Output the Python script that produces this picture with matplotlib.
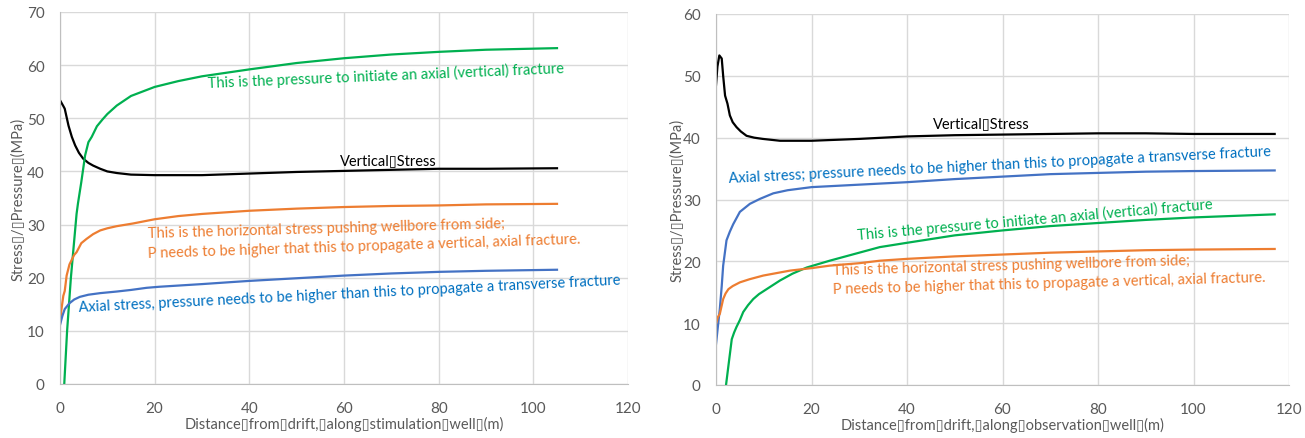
import matplotlib
matplotlib.use('Agg')
import matplotlib.pyplot as plt

plt.rcParams['font.family'] = ['Lato', 'DejaVu Sans']

# Stimulation well (left panel)
stim_black_x = [0, 0.7, 1.0, 1.8, 2.5, 3.2, 4.0, 4.9, 6, 7, 8.5, 10, 12, 15, 20, 30, 40, 50, 60, 70, 80, 90, 105]
stim_black_y = [53.4, 52.3, 51.8, 48.6, 46.5, 44.9, 43.5, 42.4, 41.6, 41.1, 40.5, 40.0, 39.7, 39.4, 39.3, 39.3, 39.6, 39.9, 40.1, 40.3, 40.5, 40.5, 40.6]

stim_green_x = [0.9, 1.5, 2.3, 3.1, 3.5, 3.8, 4.5, 5.3, 6.0, 6.7, 7.8, 9.0, 10, 12, 15, 20, 25, 30, 40, 50, 60, 70, 80, 90, 105]
stim_green_y = [0, 10, 20, 28, 32, 34, 38, 43, 45.5, 46.5, 48.5, 49.8, 50.8, 52.4, 54.2, 55.9, 57.0, 57.9, 59.2, 60.4, 61.3, 62.0, 62.5, 62.9, 63.2]

stim_orange_x = [0, 0.3, 0.7, 1.0, 1.4, 2, 3, 3.5, 4.5, 5.6, 7, 8.5, 10, 12, 15.4, 20, 25, 30, 40, 50, 60, 70, 80, 90, 105]
stim_orange_y = [11.5, 14, 16.6, 17.5, 20.4, 22.5, 24.3, 24.8, 26.5, 27.3, 28.2, 28.9, 29.3, 29.7, 30.2, 31.0, 31.6, 32.0, 32.6, 33.0, 33.3, 33.5, 33.6, 33.8, 33.9]

stim_blue_x = [0, 0.5, 1, 2, 3, 4.2, 6, 8.5, 12, 15, 18.3, 21, 30, 36.6, 40, 50, 60, 70, 80, 90, 105]
stim_blue_y = [11.1, 12.8, 14.1, 15.2, 15.9, 16.4, 16.8, 17.1, 17.4, 17.7, 18.1, 18.3, 18.8, 19.2, 19.4, 19.9, 20.4, 20.8, 21.1, 21.3, 21.5]

# Observation well (right panel)
obs_black_x = [0, 0.3, 0.7, 1.2, 1.5, 1.9, 2.4, 2.9, 3.5, 4.3, 5.2, 6.4, 8, 9.8, 13.4, 20, 30, 40, 50, 60, 70, 80, 90, 100, 117]
obs_black_y = [48.5, 51.5, 53.3, 52.8, 50, 46.8, 45.5, 43.6, 42.5, 41.7, 41.0, 40.3, 40.0, 39.8, 39.5, 39.5, 39.8, 40.2, 40.4, 40.5, 40.6, 40.7, 40.7, 40.6, 40.6]

obs_blue_x = [0, 0.4, 0.8, 1.2, 1.5, 2.2, 2.9, 3.6, 5, 7.1, 9.2, 12, 15, 20, 30, 40, 50, 60, 70, 80, 90, 100, 117]
obs_blue_y = [6.6, 9.5, 12.3, 16, 19.3, 23.4, 24.8, 26, 28, 29.3, 30.1, 31.0, 31.5, 32.0, 32.4, 32.8, 33.3, 33.7, 34.1, 34.3, 34.5, 34.6, 34.7]

obs_green_x = [2.1, 2.6, 3.3, 3.8, 4.3, 5, 5.7, 6.7, 7.8, 9, 10.6, 13.4, 16, 19, 23.8, 30, 34.3, 40, 50, 60, 70, 80, 90, 100, 117]
obs_green_y = [0, 3.1, 7.4, 8.5, 9.4, 10.5, 11.8, 12.9, 13.9, 14.7, 15.5, 16.9, 18.0, 19.0, 20.1, 21.4, 22.3, 23.0, 24.2, 25.0, 25.7, 26.2, 26.7, 27.1, 27.6]

obs_orange_x = [0, 0.4, 0.8, 1.5, 2.0, 2.6, 3.5, 5, 7, 9.9, 12, 15.5, 20, 23.8, 30, 34.3, 40, 50, 60, 70, 80, 90, 100, 117]
obs_orange_y = [9.9, 11.0, 11.5, 13.9, 14.8, 15.5, 16.0, 16.6, 17.1, 17.7, 18.0, 18.5, 18.9, 19.3, 19.7, 20.1, 20.4, 20.8, 21.1, 21.4, 21.6, 21.8, 21.9, 22.0]

BOX = '\u25af'
ylabel = 'Stress' + BOX + '/' + BOX + 'Pressure' + BOX + '(MPa)'
stim_xlabel = BOX.join(['Distance', 'from', 'drift,', 'along', 'stimulation', 'well', '(m)'])
obs_xlabel = BOX.join(['Distance', 'from', 'drift,', 'along', 'observation', 'well', '(m)'])

GREEN = '#00B050'
ORANGE = '#ED7D31'
BLUE = '#4472C4'
BLUE_TXT = '#0070C0'
GREY = '#595959'

fig = plt.figure(figsize=(13.05, 4.39), dpi=100)
ax1 = fig.add_axes([60 / 1305, 54 / 439, 568 / 1305, 372 / 439])
ax2 = fig.add_axes([716 / 1305, 53 / 439, 573 / 1305, 371 / 439])


def style(ax, ymax, xlabel, ylabelpad):
    ax.set_xlim(0, 120)
    ax.set_ylim(0, ymax)
    ax.set_xticks(range(0, 121, 20))
    ax.set_yticks(range(0, ymax + 1, 10))
    ax.grid(True, color='#d9d9d9', lw=1)
    ax.set_axisbelow(True)
    for s in ['top', 'right']:
        ax.spines[s].set_visible(False)
    for s in ['left', 'bottom']:
        ax.spines[s].set_color('#bfbfbf')
    ax.tick_params(length=0, labelsize=11, labelcolor=GREY)
    ax.tick_params(axis='x', pad=12)
    ax.tick_params(axis='y', pad=11)
    ax.set_xlabel(xlabel, fontsize=10.5, color=GREY, labelpad=1)
    ax.set_ylabel(ylabel, fontsize=10.5, color=GREY, labelpad=ylabelpad)


style(ax1, 70, stim_xlabel, 1)
style(ax2, 60, obs_xlabel, -1)

lw = 1.6
ax1.plot(stim_black_x, stim_black_y, color='black', lw=lw)
ax1.plot(stim_green_x, stim_green_y, color=GREEN, lw=lw)
ax1.plot(stim_orange_x, stim_orange_y, color=ORANGE, lw=lw)
ax1.plot(stim_blue_x, stim_blue_y, color=BLUE, lw=lw)

ax2.plot(obs_black_x, obs_black_y, color='black', lw=lw)
ax2.plot(obs_blue_x, obs_blue_y, color=BLUE, lw=lw)
ax2.plot(obs_green_x, obs_green_y, color=GREEN, lw=lw)
ax2.plot(obs_orange_x, obs_orange_y, color=ORANGE, lw=lw)

fs = 10.5
kw = dict(ha='left', va='baseline', rotation_mode='anchor', fontsize=fs)

# left panel annotations
ax1.text(31.3, 55.9, 'This is the pressure to initiate an axial (vertical) fracture', color=GREEN, rotation=2.4, **kw)
ax1.text(59.2, 41.4, 'Vertical' + BOX + 'Stress', color='black', **kw)
ax1.text(18.6, 27.7, 'This is the horizontal stress pushing wellbore from side;', color=ORANGE, rotation=1.6, **kw)
ax1.text(18.6, 23.9, 'P needs to be higher that this to propagate a vertical, axial fracture.', color=ORANGE, rotation=1.9, **kw)
ax1.text(3.9, 13.8, 'Axial stress, pressure needs to be higher than this to propagate a transverse fracture', color=BLUE_TXT, rotation=2.9, **kw)

# right panel annotations
ax2.text(45.4, 41.7, 'Vertical' + BOX + 'Stress', color='black', **kw)
ax2.text(2.6, 32.8, 'Axial stress; pressure needs to be higher than this to propagate a transverse fracture', color=BLUE_TXT, rotation=2.85, **kw)
ax2.text(29.7, 23.6, 'This is the pressure to initiate an axial (vertical) fracture', color=GREEN, rotation=5.0, **kw)
ax2.text(24.5, 18.0, 'This is the horizontal stress pushing wellbore from side;', color=ORANGE, rotation=1.6, **kw)
ax2.text(24.5, 14.9, 'P needs to be higher that this to propagate a vertical, axial fracture.', color=ORANGE, rotation=1.6, **kw)

fig.savefig('out.png', dpi=100)
